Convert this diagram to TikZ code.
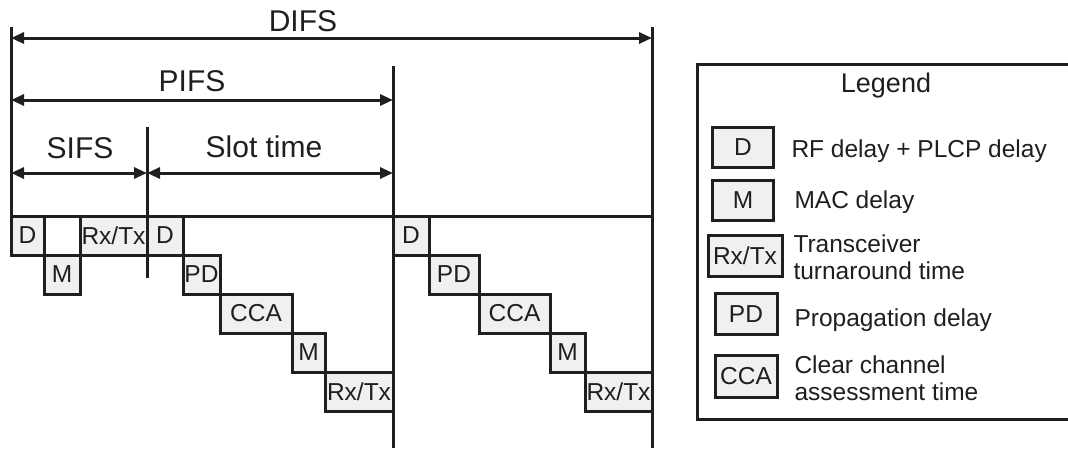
\documentclass[tikz,border=0pt]{standalone}
\usepackage{fontspec}
\setmainfont{Liberation Sans}
\usetikzlibrary{arrows.meta,positioning}

\tikzset{
  blk/.style={draw, fill=gray!12, line width=3pt, outer sep=0pt, inner sep=0pt,
    minimum height=39pt, font=\fontsize{24.5}{28}\selectfont},
  span/.style={{Triangle[length=13pt,width=11pt]}-{Triangle[length=13pt,width=11pt]}, line width=3pt},
  lbl/.style={inner sep=0pt, font=\fontsize{30}{34}\selectfont},
  txt/.style={anchor=west, align=left, inner sep=0pt, font=\fontsize{24.5}{27.5}\selectfont},
}

\begin{document}
\begin{tikzpicture}[x=1pt, y=-1pt, line width=3pt, color=black!88]
  \useasboundingbox (0,0) rectangle (1068,448);
  % Time marks:
  \coordinate (t0) at (11,27);
  \coordinate (t1) at (147,127);
  \coordinate (t2) at (393,66);
  \coordinate (t3) at (652,27);

  % SIFS part:
  \node[blk, minimum width=33pt, anchor=north west] (dA) at (t0 |- 0,216) {D};
  \node[blk, minimum width=36pt, anchor=north west] (mA) at (dA.south east) {M};
  \node[blk, minimum width=67pt, anchor=south west] (rtA) at (mA.north east) {Rx/Tx};
  % Slot time part:
  \node[blk, minimum width=36pt, anchor=north west] (dB) at (t1 |- 0,216) {D};
  \node[blk, minimum width=37pt, anchor=north west] (pdB) at (dB.south east) {PD};
  \node[blk, minimum width=72pt, anchor=north west] (ccaB) at (pdB.south east) {CCA};
  \node[blk, minimum width=33pt, anchor=north west] (mB) at (ccaB.south east) {M};
  \node[blk, minimum width=68pt, anchor=north west] (rtB) at (mB.south east) {Rx/Tx};
  % Second slot:
  \node[blk, minimum width=36pt, anchor=north west] (dC) at (t2 |- 0,216) {D};
  \node[blk, minimum width=50pt, anchor=north west] (pdC) at (dC.south east) {PD};
  \node[blk, minimum width=71pt, anchor=north west] (ccaC) at (pdC.south east) {CCA};
  \node[blk, minimum width=35pt, anchor=north west] (mC) at (ccaC.south east) {M};
  \node[blk, minimum width=67pt, anchor=north west] (rtC) at (mC.south east) {Rx/Tx};

  % Lines:
  \draw (t0) -- (t0 |- 0,216) -- (t3 |- 0,216);
  \draw (t1) -- (t1 |- 0,278);
  \draw (t2) -- (t2 |- 0,448);
  \draw (t3) -- (t3 |- 0,448);

  % Spans and labels:
  \draw[span] (t0 |- 0,38) -- (t3 |- 0,38);
  \draw[span] (t0 |- 0,100) -- (t2 |- 0,100);
  \draw[span] (t0 |- 0,173) -- (t1 |- 0,173);
  \draw[span] (t1 |- 0,173) -- (t2 |- 0,173);
  \node[lbl] (difs) at (303,21) {DIFS};
  \node[lbl] (pifs) at (192,81) {PIFS};
  \node[lbl] (sifs) at (80,148) {SIFS};
  \node[lbl] (slot) at (264,147) {Slot time};

  % Legend (open on the right):
  \draw (1068,64) -| (697,419) -- (1068,419);
  \node[font=\fontsize{27}{30}\selectfont, inner sep=0pt] (legend) at (886,86) {Legend};
  \node[blk, minimum width=61pt, minimum height=40pt] (keyD) at (743,147) {D};
  \node[txt] (txtD) at (790,151) {RF delay + PLCP delay};
  \node[blk, minimum width=61pt, minimum height=40pt] (keyM) at (743,200) {M};
  \node[txt] (txtM) at (793,202) {MAC delay};
  \node[blk, minimum width=74pt, minimum height=41pt] (keyRT) at (745,256) {Rx/Tx};
  \node[txt] (txtRT) at (792,257) {Transceiver\\turnaround time};
  \node[blk, minimum width=62pt, minimum height=41pt] (keyPD) at (746,314) {PD};
  \node[txt] (txtPD) at (793,320) {Propagation delay};
  \node[blk, minimum width=62pt, minimum height=42pt] (keyCCA) at (746,376) {CCA};
  \node[txt] (txtCCA) at (793,378) {Clear channel\\assessment time};
\end{tikzpicture}
\end{document}
